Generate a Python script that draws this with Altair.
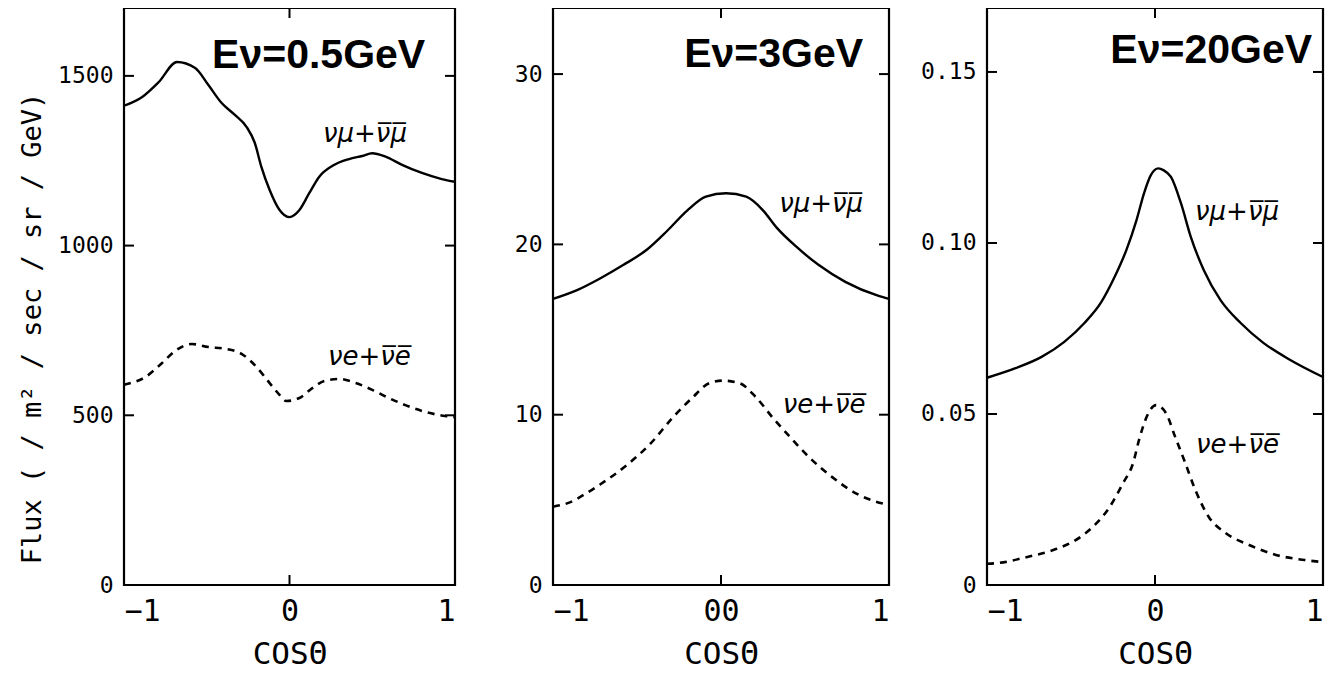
import altair as alt
import pandas as pd

# ---------------- data ----------------
# Panel 1: E = 0.5 GeV
p1_mu_cos = [-1.0, -0.89, -0.79, -0.68, -0.57, -0.49, -0.41, -0.33, -0.26, -0.21, -0.17, -0.12,
             -0.06, 0.0, 0.06, 0.12, 0.18, 0.26, 0.36, 0.44, 0.50, 0.58, 0.68, 0.80, 0.92, 1.0]
p1_mu_flux = [1412, 1438, 1482, 1541, 1523, 1473, 1420, 1385, 1350, 1303, 1232, 1164,
              1105, 1084, 1105, 1155, 1203, 1235, 1255, 1264, 1272, 1262, 1238, 1214, 1196, 1188]
p1_e_cos = [-1.0, -0.87, -0.77, -0.69, -0.59, -0.49, -0.39, -0.29, -0.21, -0.12, -0.06, -0.02,
            0.06, 0.14, 0.21, 0.30, 0.40, 0.50, 0.60, 0.70, 0.80, 0.94, 1.0]
p1_e_flux = [590, 613, 654, 690, 710, 701, 696, 681, 648, 595, 560, 542,
             551, 581, 601, 607, 595, 575, 551, 530, 513, 498, 495]

# Panel 2: E = 3 GeV
p2_mu_cos = [-1.0, -0.86, -0.72, -0.58, -0.44, -0.32, -0.20, -0.09, 0.03, 0.15, 0.25, 0.33,
             0.45, 0.58, 0.74, 0.93, 1.0]
p2_mu_flux = [16.8, 17.3, 18.0, 18.8, 19.7, 20.8, 22.0, 22.8, 23.0, 22.8, 22.0, 21.0,
              19.85, 18.8, 17.8, 17.0, 16.8]
p2_e_cos = [-1.0, -0.90, -0.80, -0.72, -0.56, -0.42, -0.29, -0.17, -0.07, 0.01, 0.11, 0.21,
            0.31, 0.41, 0.53, 0.66, 0.80, 0.92, 1.0]
p2_e_flux = [4.6, 4.85, 5.4, 5.9, 7.05, 8.3, 9.8, 11.0, 11.85, 12.0, 11.85, 11.0,
             9.8, 8.7, 7.45, 6.35, 5.4, 4.9, 4.7]

# Panel 3: E = 20 GeV
p3_mu_cos = [-1.0, -0.83, -0.675, -0.54, -0.42, -0.32, -0.24, -0.17, -0.11, -0.065, -0.024, 0.02,
             0.05, 0.095, 0.154, 0.213, 0.29, 0.39, 0.51, 0.645, 0.805, 1.0]
p3_mu_flux = [0.0606, 0.0634, 0.0667, 0.0711, 0.0766, 0.0827, 0.0901, 0.098, 0.1067, 0.1146, 0.1199, 0.1218,
              0.1213, 0.1193, 0.1117, 0.1018, 0.0921, 0.0833, 0.0766, 0.0708, 0.0658, 0.0608]
p3_e_cos = [-1.0, -0.94, -0.76, -0.59, -0.47, -0.37, -0.27, -0.19, -0.13, -0.095, -0.05, 0.006,
            0.065, 0.12, 0.18, 0.24, 0.32, 0.42, 0.56, 0.72, 0.89, 1.0]
p3_e_flux = [0.0062, 0.0064, 0.0082, 0.0105, 0.0132, 0.017, 0.0228, 0.0298, 0.0357, 0.0424, 0.0491, 0.0526,
             0.0503, 0.0433, 0.0357, 0.0278, 0.0199, 0.0152, 0.0117, 0.0088, 0.0073, 0.0067]

# axes / text
panel_titles = ["Eν=0.5GeV", "Eν=3GeV", "Eν=20GeV"]
mu_label = "νμ+ν̅μ̅"
e_label = "νe+ν̅e̅"
y_max = [1700, 33.88, 0.1687]
y_ticks = [[0, 500, 1000, 1500], [0, 10, 20, 30], [0, 0.05, 0.10, 0.15]]
x_ticks = [-1, 0, 1]
y_title = "Flux ( / m² / sec / sr / GeV)"
x_title = "COSΘ"

# annotation anchors (data coordinates)
title_pos = [(0.82, 1524), (0.846, 30.4), (0.935, 0.1526)]
mu_pos = [(0.456, 1306), (0.596, 21.9), (0.488, 0.1067)]
e_pos = [(0.483, 648), (0.614, 10.1), (0.491, 0.0386)]

# ---------------- layout / style ----------------
H = 577
W = [331, 336, 336]
GAP = 98
MONO = "DejaVu Sans Mono"
TICK = 10

y_label_expr = [
    "format(datum.value, 'd')",
    "format(datum.value, 'd')",
    "datum.value == 0 ? '0' : format(datum.value, '.2f')",
]
x_label_expr = [
    "format(datum.value, 'd')",
    "datum.value == 0 ? '00' : format(datum.value, 'd')",
    "format(datum.value, 'd')",
]


def make_panel(i, mu_c, mu_f, e_c, e_f):
    w = W[i]
    mu = pd.DataFrame({"c": mu_c, "f": mu_f})
    e = pd.DataFrame({"c": e_c, "f": e_f})
    xscale = alt.Scale(domain=[-1, 1], nice=False, zero=False)
    yscale = alt.Scale(domain=[0, y_max[i]], nice=False, zero=False)

    yax = dict(values=y_ticks[i], labelExpr=y_label_expr[i], ticks=False, domain=False, grid=False,
               labelFont=MONO, labelFontSize=23, labelPadding=11, labelColor="black")
    if i == 0:
        yax.update(title=y_title, titleFont=MONO, titleFontSize=27, titleFontWeight="normal",
                   titleColor="black", titleX=-92, titleY=320, titleAngle=270,
                   titleBaseline="middle", titleAlign="center")
    else:
        yax.update(title=None)
    yaxis = alt.Axis(**yax)
    xaxis = alt.Axis(values=x_ticks, labelExpr=x_label_expr[i], ticks=False, domain=False, grid=False,
                     labelFont=MONO, labelFontSize=30, labelPadding=11, labelColor="black",
                     title=x_title, titleFont=MONO, titleFontSize=31, titleFontWeight="normal",
                     titleColor="black", titlePadding=13)

    def X(field):
        return alt.X(field, scale=xscale, axis=xaxis)

    def Y(field):
        return alt.Y(field, scale=yscale, axis=yaxis)

    solid = alt.Chart(mu).mark_line(color="black", strokeWidth=2.4, interpolate="monotone").encode(
        x=X("c:Q"), y=Y("f:Q"))
    dashed = alt.Chart(e).mark_line(color="black", strokeWidth=2.6, strokeDash=[7, 6],
                                    interpolate="monotone").encode(x=X("c:Q"), y=Y("f:Q"))

    yt = pd.DataFrame({"f": y_ticks[i][1:]})
    left_t = alt.Chart(yt).mark_rule(color="black", strokeWidth=2).encode(
        y=Y("f:Q"), x=alt.value(0), x2=alt.value(TICK))
    right_t = alt.Chart(yt).mark_rule(color="black", strokeWidth=2).encode(
        y=Y("f:Q"), x=alt.value(w - TICK), x2=alt.value(w))
    xt = pd.DataFrame({"c": [0]})
    bot_t = alt.Chart(xt).mark_rule(color="black", strokeWidth=2).encode(
        x=X("c:Q"), y=alt.value(H - TICK), y2=alt.value(H))
    top_t = alt.Chart(xt).mark_rule(color="black", strokeWidth=2).encode(
        x=X("c:Q"), y=alt.value(0), y2=alt.value(TICK))

    tdf = pd.DataFrame({"c": [title_pos[i][0]], "f": [title_pos[i][1]], "t": [panel_titles[i]]})
    ttl = alt.Chart(tdf).mark_text(align="right", baseline="alphabetic", font="Liberation Sans",
                                   fontSize=41, fontWeight="bold", color="black").encode(
        x=X("c:Q"), y=Y("f:Q"), text="t:N")

    ldf = pd.DataFrame({"c": [mu_pos[i][0], e_pos[i][0]], "f": [mu_pos[i][1], e_pos[i][1]],
                        "t": [mu_label, e_label]})
    labs = alt.Chart(ldf).mark_text(align="center", baseline="alphabetic", font="DejaVu Sans",
                                    fontSize=26, fontStyle="italic", color="black").encode(
        x=X("c:Q"), y=Y("f:Q"), text="t:N")

    return alt.layer(solid, dashed, left_t, right_t, bot_t, top_t, ttl, labs).properties(
        width=w, height=H)


p1 = make_panel(0, p1_mu_cos, p1_mu_flux, p1_e_cos, p1_e_flux)
p2 = make_panel(1, p2_mu_cos, p2_mu_flux, p2_e_cos, p2_e_flux)
p3 = make_panel(2, p3_mu_cos, p3_mu_flux, p3_e_cos, p3_e_flux)

chart = (
    alt.hconcat(p1, p2, p3, spacing=GAP, bounds="flush")
    .resolve_scale(x="independent", y="independent")
    .properties(padding={"left": 8, "top": -3, "right": 0, "bottom": 0}, background="white")
    .configure_view(stroke="black", strokeWidth=2.2)
)

chart.save("out.html", embed_options={"renderer": "svg", "actions": False})
